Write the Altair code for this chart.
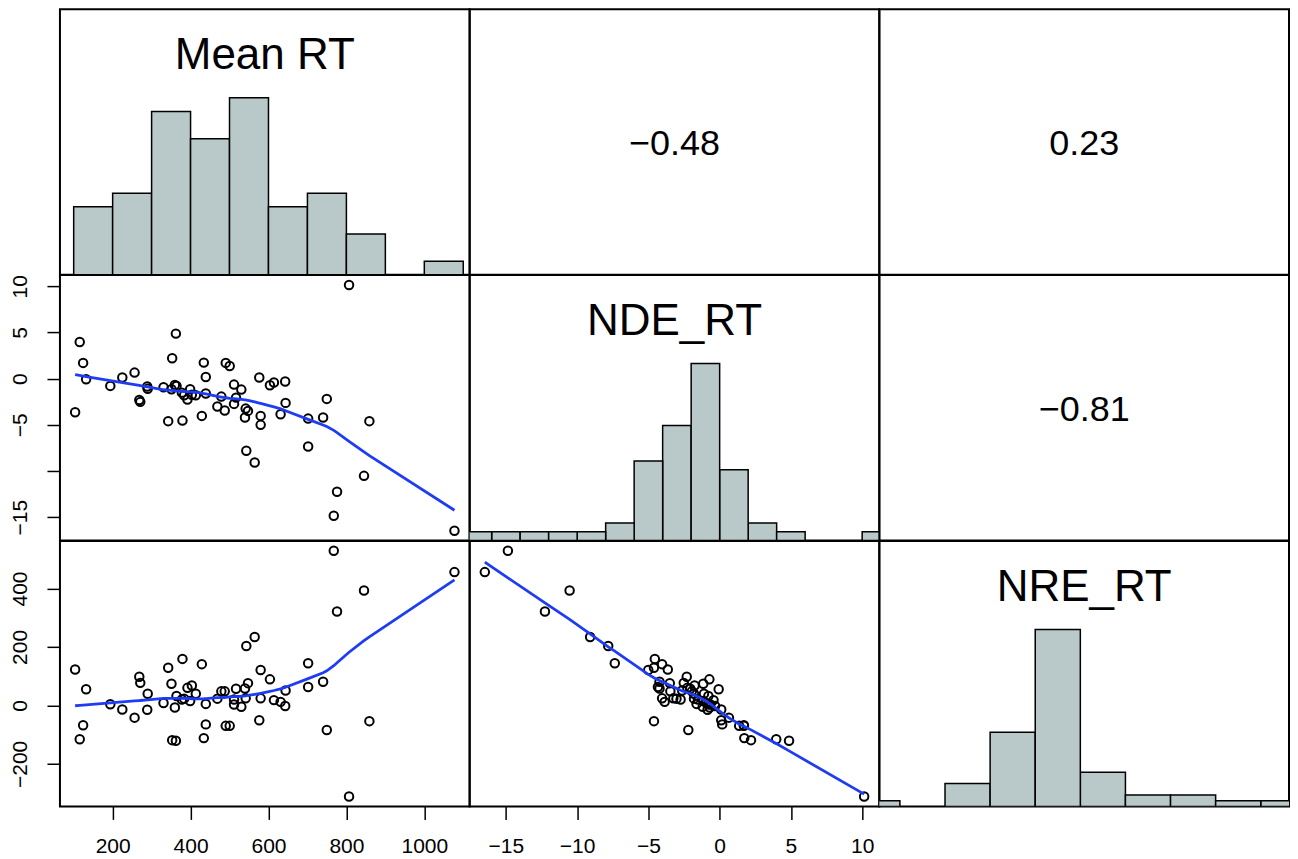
import altair as alt
import pandas as pd

# ---- data (61 subjects) ----
mean_rt = [103.7, 115.5, 124.2, 131.9, 194.0, 224.8, 256.3, 268.4, 270.9, 290.0,
           288.8, 330.6, 342.6, 351.0, 352.8, 359.7, 362.3, 363.9, 377.7, 379.2,
           383.5, 392.0, 398.9, 403.3, 413.5, 428.9, 434.0, 439.1, 439.1, 468.8,
           479.0, 487.7, 490.3, 500.5, 511.6, 511.6, 516.7, 530.3, 541.5, 539.7,
           543.1, 547.4, 564.6, 576.4, 579.9, 579.9, 603.7, 614.0, 631.1, 642.9,
           643.9, 701.8, 701.8, 740.2, 749.7, 767.6, 776.0, 806.8, 845.2, 859.0,
           1077.4]
nde_rt = [-3.64, 3.97, 1.70, -0.07, -0.79, 0.11, 0.65, -2.31, -2.52, -1.10,
          -0.85, -0.93, -4.61, -1.15, 2.20, -0.70, 4.87, -0.79, -1.52, -4.55,
          -1.80, -2.27, -1.15, -1.76, -1.80, -4.04, 1.73, 0.18, -1.62, -3.03,
          -1.95, -3.46, 1.70, 1.37, -0.65, -2.74, -2.06, -1.19, -3.25, -4.22,
          -7.82, -3.50, -9.09, 0.11, -4.04, -5.01, -0.72, -0.43, -3.86, -0.32,
          -2.63, -4.33, -7.36, -4.22, -2.20, -14.86, -12.26, 10.14, -10.53, -4.61,
          -16.48]
nre_rt = [123, -116, -68, 55, 4, -14, -42, 98, 77, 40,
          -15, 8, 129, 74, -119, -7, -121, 32, 20, 159,
          23, 60, 15, 68, 40, 141, -112, -65, 5, 23,
          48, 48, -70, -70, 3, 20, 57, -5, 24, 58,
          203, 76, 234, -51, 24, 121, 89, 18, 12, -2,
          51, 63, 144, 81, -84, 529, 321, -312, 393, -54,
          456]

var_fields = ["MRT", "NDE", "NRE"]
var_labels = ["Mean RT", "NDE_RT", "NRE_RT"]
bin_steps = [100, 2, 100]
bin_extents = [[100, 1100], [-18, 12], [-400, 600]]
cor_text = {(0, 1): "\u22120.48", (0, 2): "0.23", (1, 2): "\u22120.81"}
x_ticks = [[200, 400, 600, 800, 1000], [-15, -10, -5, 0, 5, 10], []]
y_ticks = [[], [-15, -10, -5, 0, 5, 10], [-200, 0, 200, 400]]

df = pd.DataFrame({"MRT": mean_rt, "NDE": nde_rt, "NRE": nre_rt})


def ext(v):
    lo, hi = min(v), max(v)
    r = hi - lo
    return [lo - 0.04 * r, hi + 0.04 * r]


domains = [ext(mean_rt), ext(nde_rt), ext(nre_rt)]

W, H = 410, 265.7
FONT = "Liberation Sans"
HIST_FILL = "#b9c9c9"
SMOOTH = "#1f3cf5"


def x_axis(c):
    return alt.Axis(values=x_ticks[c], title=None, grid=False, domain=False, format="d",
                    tickSize=13, tickWidth=1.5, tickColor="black",
                    labelFontSize=21, labelFont=FONT, labelColor="black",
                    labelPadding=16, labelFlush=False, labelOverlap=False)


def y_axis(r):
    return alt.Axis(values=y_ticks[r], title=None, grid=False, domain=False, format="d",
                    tickSize=13, tickWidth=1.5, tickColor="black",
                    labelFontSize=21, labelFont=FONT, labelColor="black",
                    labelAngle=270, labelAlign="center", labelBaseline="alphabetic",
                    labelPadding=20, labelFlush=False, labelOverlap=False,
                    labelExpr="datum.value == -10 ? '' : datum.label")


base = alt.Chart(df)
panels = []
for r in range(3):
    for c in range(3):
        if r == c:
            f = var_fields[c]
            b0, b1 = f"{f}_lo", f"{f}_hi"
            n, mx, h = f"{f}_n", f"{f}_max", f"{f}_h"
            hist = (
                base.transform_bin([b0, b1], field=f,
                                   bin=alt.Bin(extent=bin_extents[c], step=bin_steps[c], nice=False))
                .transform_aggregate(**{n: "count()"}, groupby=[b0, b1])
                .transform_joinaggregate(**{mx: f"max({n})"})
                .transform_calculate(**{h: f"datum['{n}'] / datum['{mx}']"})
                .mark_rect(fill=HIST_FILL, stroke="black", strokeWidth=1.5, clip=True)
                .encode(
                    x=alt.X(f"{b0}:Q", scale=alt.Scale(domain=domains[c], nice=False, zero=False), axis=None),
                    x2=f"{b1}:Q",
                    y=alt.Y(f"{h}:Q", scale=alt.Scale(domain=[0, 1.5], nice=False), axis=None),
                    y2=alt.datum(0),
                )
            )
            lab = (
                alt.Chart(pd.DataFrame({"t": [var_labels[c]]}))
                .mark_text(font=FONT, fontSize=44, color="black", align="center", baseline="alphabetic")
                .encode(text="t:N", x=alt.value(W / 2), y=alt.value(60))
            )
            panels.append(alt.layer(hist, lab).properties(width=W, height=H))
        elif r < c:
            txt = (
                alt.Chart(pd.DataFrame({"t": [cor_text[(r, c)]]}))
                .mark_text(font=FONT, fontSize=36, color="black", align="center", baseline="middle")
                .encode(text="t:N", x=alt.value(W / 2), y=alt.value(H / 2 + 2))
            )
            panels.append(txt.properties(width=W, height=H))
        else:
            xf, yf = var_fields[c], var_fields[r]
            xa = x_axis(c) if r == 2 else None
            ya = y_axis(r) if c == 0 else None
            xenc = alt.X(f"{xf}:Q", scale=alt.Scale(domain=domains[c], nice=False, zero=False), axis=xa)
            yenc = alt.Y(f"{yf}:Q", scale=alt.Scale(domain=domains[r], nice=False, zero=False), axis=ya)
            pts = base.mark_point(shape="circle", filled=False, color="black", size=72,
                                  strokeWidth=2, opacity=1).encode(x=xenc, y=yenc)
            line = (
                base.transform_loess(xf, yf, bandwidth=0.667)
                .mark_line(color=SMOOTH, strokeWidth=2.8)
                .encode(x=xenc, y=yenc)
            )
            panels.append(alt.layer(pts, line).properties(width=W, height=H))

chart = (
    alt.concat(*panels, columns=3, spacing=0, bounds="flush")
    .properties(padding={"left": 8, "top": 8, "right": 8, "bottom": 5}, background="white")
    .configure_view(stroke="black", strokeWidth=2)
)

chart.save("out.html", embed_options={"renderer": "svg", "actions": False})
